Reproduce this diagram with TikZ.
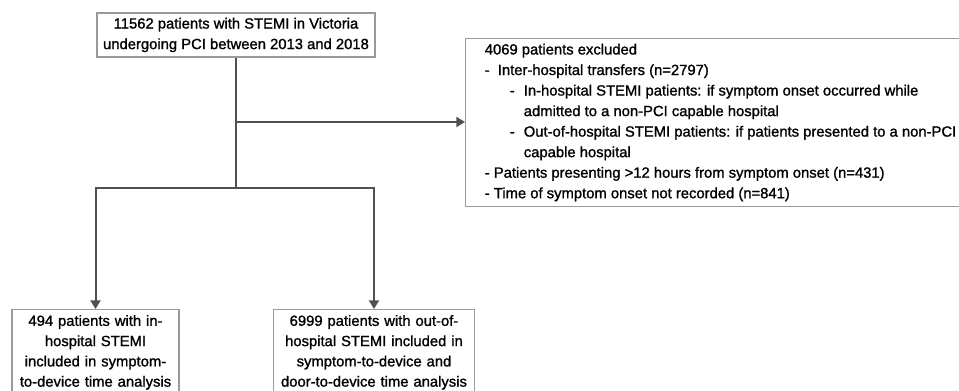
\documentclass[tikz,border=0pt]{standalone}
\usepackage{fontspec}
\setmainfont{Liberation Sans}[FakeBold=1.2]
\usepackage{tikz}
\usetikzlibrary{positioning}
\usetikzlibrary{arrows.meta}
\definecolor{linegray}{HTML}{505050}
\definecolor{boxgray}{HTML}{9A9A9A}
\tikzset{
    box/.style = {rectangle, draw=boxgray, line width=0.8pt, align=center, inner xsep=2pt, inner ysep=1.6pt, font=\fontsize{11.1}{15.4}\selectfont},
    lowbox/.style = {box, anchor=north, inner ysep=4.2pt, font=\fontsize{11.1}{15.2}\selectfont},
    exbox/.style = {rectangle, draw=boxgray, line width=0.8pt, align=left, anchor=north west, inner xsep=2.2pt, inner ysep=1.8pt, font=\fontsize{11.1}{15.4}\selectfont},
    edgen/.style = {-{Triangle[length=6.5pt,width=7.5pt]}, line width=1.5pt, draw=linegray},
    edgel/.style = {line width=1.5pt, draw=linegray}, % no tip
}
\begin{document}
\begin{tikzpicture}[x=0.75pt,y=-0.75pt]
\useasboundingbox (0,0) rectangle (959,391);
\clip (0,0) rectangle (959,391);
\node[box, minimum width=278*0.75pt, minimum height=44*0.75pt] at (236, 35) (all)
  {11562 patients with STEMI in Victoria\\undergoing PCI between 2013 and 2018};
\node[exbox, minimum width=510*0.75pt, minimum height=168*0.75pt] at (465, 38) (excl)
  {4069 patients excluded\\
   \makebox[9.75pt][l]{-}Inter-hospital transfers (n=2797)\\
   \hspace*{18.75pt}\makebox[10.5pt][l]{-}In-hospital STEMI patients: if symptom onset occurred while\\
   \hspace*{29.25pt}admitted to a non-PCI capable hospital\\
   \hspace*{18.75pt}\makebox[10.5pt][l]{-}Out-of-hospital STEMI patients: if patients presented to a non-PCI\\
   \hspace*{29.25pt}capable hospital\\
   - Patients presenting >12 hours from symptom onset (n=431)\\
   - Time of symptom onset not recorded (n=841)};
\node[lowbox, text width=160*0.75pt, minimum width=167*0.75pt] at (95.5, 309) (inh)
  {494 patients with in-\\hospital STEMI\\included in symptom-\\to-device time analysis};
\node[lowbox, text width=195*0.75pt, minimum width=200*0.75pt] at (374, 309) (outh)
  {6999 patients with out-of-\\hospital STEMI included in\\symptom-to-device and\\door-to-device time analysis};
\coordinate (branch) at (236, 122);
\coordinate (split) at (236, 188);
%
\draw[edgel] (all) -- (split);
\draw[edgen] (branch) -- (excl.west |- branch);
\draw[edgen] (split) -| (inh);
\draw[edgen] (split) -| (outh);

\end{tikzpicture}
\end{document}
